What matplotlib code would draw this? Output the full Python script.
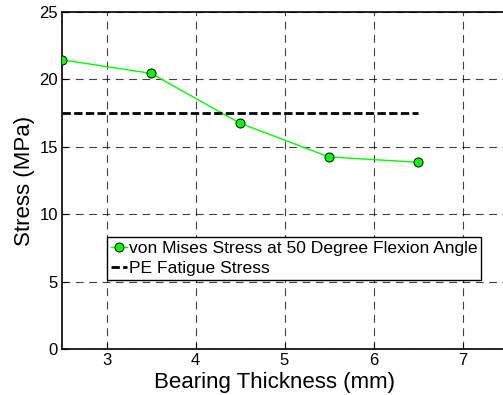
import matplotlib
matplotlib.use("Agg")
import matplotlib.pyplot as plt

thickness = [2.5, 3.5, 4.5, 5.5, 6.5]
von_mises = [21.45, 20.45, 16.75, 14.25, 13.85]
fatigue_x = [2.5, 6.5]
fatigue_y = [17.5, 17.5]
xticks = [3, 4, 5, 6, 7]
yticks = [0, 5, 10, 15, 20, 25]

plt.rcParams['font.family'] = ['Liberation Sans', 'DejaVu Sans']

fig = plt.figure(figsize=(5.03, 3.95), dpi=100)
ax = fig.add_axes([62/503, 46/395, 445/503, 337/395])

ax.plot(thickness, von_mises, color='#00ff00', lw=1, marker='o', markersize=6.5,
        markerfacecolor='#00ff00', markeredgecolor='black', markeredgewidth=0.7,
        label='von Mises Stress at 50 Degree Flexion Angle', zorder=3)
ax.plot(fatigue_x, fatigue_y, color='black', lw=2, linestyle=(0, (3, 1.2)),
        label='PE Fatigue Stress', zorder=3)

ax.set_xlim(2.5, 7.5)
ax.set_ylim(0, 25)
ax.set_xticks(xticks)
ax.set_yticks(yticks)
ax.grid(True, color='black', linestyle=(0, (7, 5)), lw=0.8, alpha=0.75)
ax.tick_params(direction='in', labelsize=12, length=4, pad=3)
for s in ax.spines.values():
    s.set_linewidth(1.2)

ax.set_xlabel('Bearing Thickness (mm)', fontsize=16)
ax.xaxis.set_label_coords((274-62)/445, -(388-349)/337, transform=ax.transAxes)
ax.xaxis.label.set_va('baseline')
ax.set_ylabel('Stress (MPa)', fontsize=16, labelpad=3)

leg = ax.legend(loc='upper left', bbox_to_anchor=((107-62)/445, (349-237)/337),
                fontsize=12.6, fancybox=False, framealpha=1, edgecolor='black',
                borderpad=0.22, handlelength=0.9, handletextpad=0.12, labelspacing=0.25,
                borderaxespad=0)
leg.get_frame().set_linewidth(1)

fig.savefig('out.png', dpi=100)
